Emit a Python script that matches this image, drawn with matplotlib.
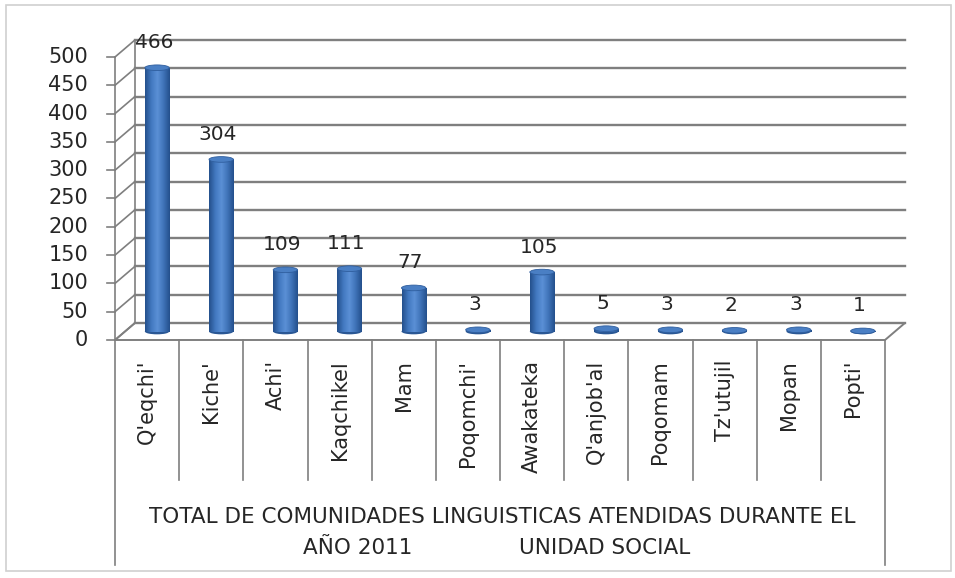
import matplotlib.pyplot as plt
import numpy as np
from matplotlib.patches import Ellipse, Rectangle, Polygon

categorias = ["Q'eqchi'", "Kiche'", "Achi'", "Kaqchikel", "Mam", "Poqomchi'",
              "Awakateka", "Q'anjob'al", "Poqomam", "Tz'utujil", "Mopan", "Popti'"]
valores = [466, 304, 109, 111, 77, 3, 105, 5, 3, 2, 3, 1]
yticks = [0, 50, 100, 150, 200, 250, 300, 350, 400, 450, 500]
titulo1 = "TOTAL DE COMUNIDADES LINGUISTICAS ATENDIDAS DURANTE EL"
titulo2a = "AÑO 2011"
titulo2b = "UNIDAD SOCIAL"

fig = plt.figure(figsize=(9.55, 5.78), dpi=100)
# marco gris del grafico
fig.patches.append(Rectangle((0.006, 0.012), 0.99, 0.98, transform=fig.transFigure,
                             fill=False, edgecolor='#d0d0d0', linewidth=1.2))

ax = fig.add_axes([115/955, 238/578, 770/955, 283/578])
n = len(categorias)
x = np.arange(n)
ax.axis('off')

DX = 0.31   # desplazamiento de profundidad (unidades de categoria)
DY = 30     # desplazamiento de profundidad (unidades de valor)
gris = '#7f7f7f'

# pared del fondo: lineas de cuadricula
for t in yticks:
    ax.plot([-0.5 + DX, n - 0.5 + DX], [t + DY, t + DY], color=gris, lw=1.7, clip_on=False)
    # pared izquierda (diagonal)
    ax.plot([-0.5, -0.5 + DX], [t, t + DY], color=gris, lw=1.2, clip_on=False)
    # marcas del eje
    ax.plot([-0.5 - 0.12, -0.5], [t, t], color=gris, lw=1.2, clip_on=False)
    ax.text(-0.5 - 0.42, t, str(t), ha='right', va='center', fontsize=15, color='#262626')
ax.plot([-0.5 + DX, -0.5 + DX], [DY, 500 + DY], color=gris, lw=1.2, clip_on=False)
ax.plot([-0.5, -0.5], [0, 500], color=gris, lw=1.2, clip_on=False)

# piso
piso = Polygon([(-0.5, 0), (n - 0.5, 0), (n - 0.5 + DX, DY), (-0.5 + DX, DY)],
               closed=True, facecolor='white', edgecolor=gris, lw=1.4, clip_on=False)
ax.add_patch(piso)

# cilindros
W = 0.38
EH = 10
cmap = plt.matplotlib.colors.LinearSegmentedColormap.from_list(
    'cil', ['#24508c', '#4278c0', '#5b90d6', '#3f73b8', '#24508c'])
grad = np.linspace(0, 1, 64).reshape(1, -1)
for i, v in enumerate(valores):
    cx = i + DX / 2
    y0 = DY / 2
    y1 = v + DY / 2
    ax.add_patch(Ellipse((cx, y0), W, EH, facecolor='#2a5794', edgecolor='none', zorder=3))
    body = Rectangle((cx - W / 2, y0), W, v, facecolor='none', edgecolor='none', zorder=3)
    ax.add_patch(body)
    im = ax.imshow(grad, cmap=cmap, aspect='auto', extent=(cx - W / 2, cx + W / 2, y0, y1),
                   zorder=3, interpolation='bilinear')
    im.set_clip_path(body)
    ax.add_patch(Ellipse((cx, y1), W, EH, facecolor='#4a7fc4', edgecolor='#2f5e9e',
                         lw=0.6, zorder=4))
    ax.annotate(str(v), (cx - 0.05, y1), xytext=(0, 25), textcoords='offset pixels',
                ha='center', va='center', fontsize=14.5, color='#262626', zorder=5,
                annotation_clip=False)
ax.set_xlim(-0.5, n - 0.5)
ax.set_ylim(0, 500)

# eje de categorias (dos niveles)
tr = ax.get_xaxis_transform()
for b in range(n + 1):
    largo = -0.795 if b in (0, n) else -0.495
    ax.plot([b - 0.5, b - 0.5], [0, largo], color=gris, lw=1.2, transform=tr, clip_on=False)
for i, c in enumerate(categorias):
    ax.text(i, -0.07, c, rotation=90, ha='center', va='top', fontsize=15,
            color='#262626', transform=tr)

fig.text(502/955, 1 - 517/578, titulo1, ha='center', va='center', fontsize=15.5,
         color='#262626', family=['Liberation Sans Narrow', 'DejaVu Sans'])
fig.text(358/955, 1 - 548/578, titulo2a, ha='center', va='center', fontsize=15.5,
         color='#262626', family=['Liberation Sans Narrow', 'DejaVu Sans'])
fig.text(605/955, 1 - 548/578, titulo2b, ha='center', va='center', fontsize=15.5,
         color='#262626', family=['Liberation Sans Narrow', 'DejaVu Sans'])

fig.savefig('out.png', dpi=100)
